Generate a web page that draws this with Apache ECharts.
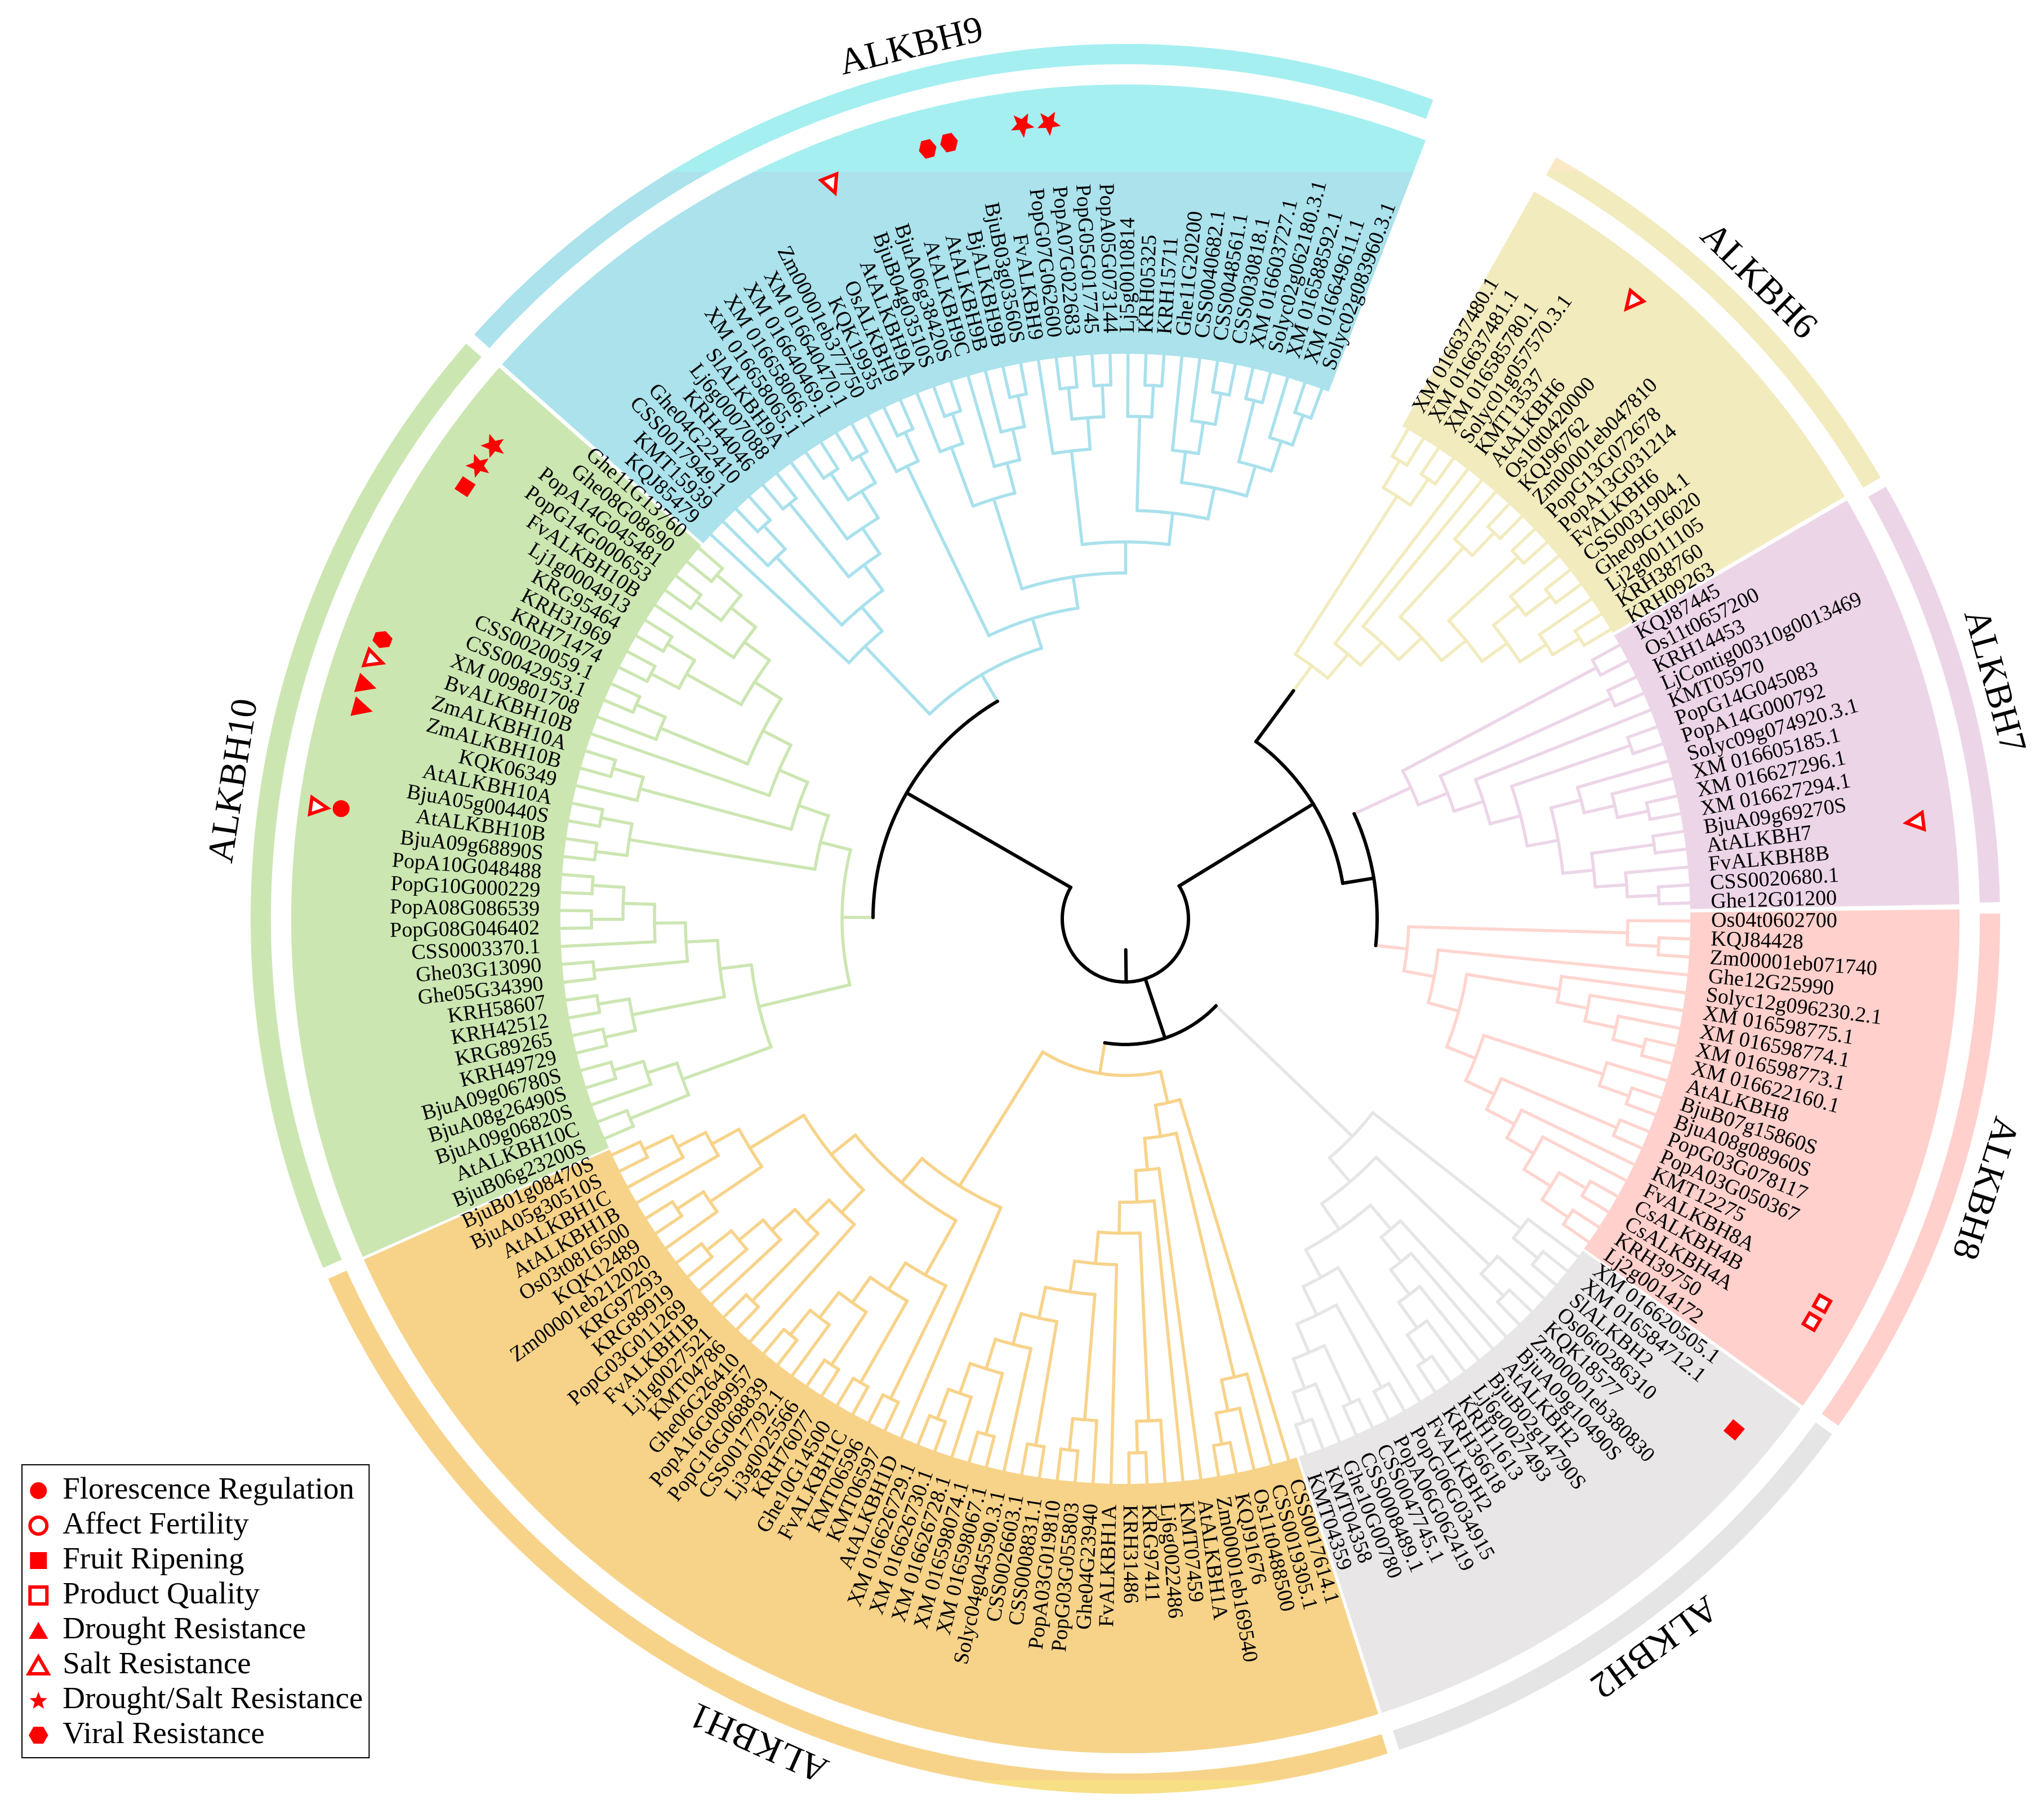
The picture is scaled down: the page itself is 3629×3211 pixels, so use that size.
<!DOCTYPE html>
<html><head><meta charset="utf-8">
<style>html,body{margin:0;padding:0;background:#fff}#c{width:3629px;height:3211px}</style>
<script src="https://cdn.jsdelivr.net/npm/echarts@6/dist/echarts.min.js"></script>
</head><body><div id="c"></div>
<script>
// ---- clade names ----
const cladeNames = ['ALKBH6','ALKBH7','ALKBH8','ALKBH2','ALKBH1','ALKBH10','ALKBH9'];
// Nested trees: [node radius, child, child]; strings are leaves, clockwise order.
const alkbh6 = [558,
 [892,[948,'XM 016637480.1','XM 016637481.1'],[948,'XM 016585780.1','Solyc01g057570.3.1']],
 [614,'KMT13537',[669,'AtALKBH6',[725,[892,'Os10t0420000',[948,'KQJ96762','Zm00001eb047810']],[781,[948,'PopG13G072678','PopA13G031214'],[836,[892,'FvALKBH6',[948,'CSS0031904.1','Ghe09G16020']],[892,'Lj2g0011105',[948,'KRH38760','KRH09263']]]]]]]];
const alkbh7 = [558,[948,'KQJ87445','Os11t0657200'],[614,[948,'KRH14453','LjContig00310g0013469'],[669,'KMT05970',[725,[948,'PopG14G045083','PopA14G000792'],[781,[836,'Solyc09g074920.3.1',[892,'XM 016605185.1',[948,'XM 016627296.1','XM 016627294.1']]],[836,[948,'BjuA09g69270S','AtALKBH7'],[892,'FvALKBH8B',[948,'CSS0020680.1','Ghe12G01200']]]]]]]];
const alkbh8 = [503,[892,'Os04t0602700',[948,'KQJ84428','Zm00001eb071740']],[558,'Ghe12G25990',[614,[781,'Solyc12g096230.2.1',[836,'XM 016598775.1',[892,'XM 016598774.1',[948,'XM 016598773.1','XM 016622160.1']]]],[669,[892,'AtALKBH8',[948,'BjuB07g15860S','BjuA08g08960S']],[725,[948,'PopG03G078117','PopA03G050367'],[781,'KMT12275',[836,'FvALKBH8A',[892,[948,'CsALKBH4B','CsALKBH4A'],[948,'KRH39750','Lj2g0014172']]]]]]]]];
const alkbh2 = [558,[892,'XM 016620505.1',[948,'XM 016584712.1','SlALKBH2']],[614,[892,'Os06t0286310',[948,'KQK18577','Zm00001eb380830']],[669,[725,'BjuA09g10490S',[781,'AtALKBH2',[836,'BjuB02g14790S',[892,'Lj6g0027493',[948,'KRH11613','KRH36618']]]]],[725,'FvALKBH2',[781,[948,'PopG06G034915','PopA06G062419'],[836,[948,'CSS0047745.1','CSS0008489.1'],[892,'Ghe10G00780',[948,'KMT04358','KMT04359']]]]]]]];
const alkbh1 = [278,
 [335,'CSS0017614.1',[391,[836,'CSS0019305.1',[892,'Os11t0488500',[948,'KQJ91676','Zm00001eb169540']]],[447,'AtALKBH1A',[503,'KMT07459',[558,[892,'Lj6g0022486',[948,'KRG97411','KRH31486']],[614,'FvALKBH1A',[669,[892,'Ghe04G23940',[948,'PopG03G055803','PopA03G019810']],[725,[948,'CSS0008831.1','CSS0026603.1'],[781,'Solyc04g045590.3.1',[836,[948,'XM 016598067.1','XM 016598074.1'],[892,'XM 016626728.1',[948,'XM 016626730.1','XM 016626729.1']]]]]]]]]]]],
 [558,'AtALKBH1D',[614,[725,[948,'KMT06597','KMT06596'],[781,[948,'FvALKBH1C','Ghe10G14500'],[836,[948,'KRH76077','Lj3g0025566'],[892,'CSS0017792.1',[948,'PopG16G068839','PopA16G089957']]]]],[669,[725,'Ghe06G26410',[781,[948,'KMT04786','Lj1g0027521'],[836,'FvALKBH1B',[892,'PopG03G011269',[948,'KRG89919','KRG97293']]]]],[781,[892,'Zm00001eb212020',[948,'KQK12489','Os03t0816500']],[836,'AtALKBH1B',[892,'AtALKBH1C',[948,'BjuA05g30510S','BjuB01g08470S']]]]]]]];
const alkbh10 = [503,
 [669,[836,[948,'BjuB06g23200S','AtALKBH10C'],[892,'BjuA09g06820S',[948,'BjuA08g26490S','BjuA09g06780S']]],[725,[892,[948,'KRH49729','KRG89265'],[948,'KRH42512','KRH58607']],[781,[948,'Ghe05G34390','Ghe03G13090'],[836,'CSS0003370.1',[892,[948,'PopG08G046402','PopA08G086539'],[948,'PopG10G000229','PopA10G048488']]]]]],
 [558,[892,[948,'BjuA09g68890S','AtALKBH10B'],[948,'BjuA05g00440S','AtALKBH10A']],[614,[892,'KQK06349',[948,'ZmALKBH10B','ZmALKBH10A']],[669,'BvALKBH10B',[725,[892,'XM 009801708',[948,'CSS0042953.1','CSS0020059.1']],[781,[892,[948,'KRH71474','KRH31969'],[948,'KRG95464','Lj1g0004913']],[836,'FvALKBH10B',[892,[948,'PopG14G000653','PopA14G045481'],[948,'Ghe08G08690','Ghe11G13760']]]]]]]]];
const alkbh9 = [503,
 [669,'KQJ85479',[725,[892,'KMT15939',[948,'CSS0017949.1','Ghe04G22410']],[781,[948,'KRH44046','Lj6g0007088'],[836,'SlALKBH9A',[892,[948,'XM 016658065.1','XM 016658066.1'],[948,'XM 016640469.1','XM 016640470.1']]]]]],
 [558,[892,'Zm00001eb377750',[948,'KQK19935','OsALKBH9']],[614,[781,[892,'AtALKBH9A',[948,'BjuB04g03510S','BjuA06g38420S']],[836,'AtALKBH9C',[892,'AtALKBH9B',[948,'BjALKBH9B','BjuB03g03560S']]]],[669,[836,'FvALKBH9',[892,[948,'PopG07G062600','PopA07G022683'],[948,'PopG05G017745','PopA05G073144']]],[725,[892,'Lj5g0010814',[948,'KRH05325','KRH15711']],[781,[836,'Ghe11G20200',[892,'CSS0040682.1',[948,'CSS0048561.1','CSS0030818.1']]],[836,[948,'XM 016603727.1','Solyc02g062180.3.1'],[892,'XM 016588592.1',[948,'XM 016649611.1','Solyc02g083960.3.1']]]]]]]]];
const rootTree = [112,[391,[503,alkbh6],[447,alkbh7,alkbh8]],[223,alkbh2,alkbh1],[448,alkbh10,alkbh9]];
const cladeTrees = [alkbh6,alkbh7,alkbh8,alkbh2,alkbh1,alkbh10,alkbh9];
// ---- colours per clade ----
const lineColors = ['#F2EBBE','#EDD5E8','#FFD5CF','#E6E6E6','#F7D38A','#CCE6B2','#A9E1EC'];
const wedgeColors = ['#F2EBBE','#EDD5E8','#FFD0CC','#E9E6E7','#F7D38A','#CCE6B2','#ABE2EC'];
const ringColors = ['#F2EBBE','#EDD5E8','#FFD0CC','#E5E5E5','#F7D38A','#CCE6B2','#ABE2EC'];
// ---- wedge and ring extents in degrees ----
const wedgeSpans = [[60.65,30.4],[30.1,1.0],[0.65,-35.7],[-35.95,-72.1],[-72.35,-155.9],[203.9,138.65],[138.35,68.9]];
const ringSpans = [[60.5,30.3],[29.6,1.1],[0.35,-35.4],[-36.1,-71.75],[-72.55,-155.7],[203.5,138.9],[138.1,69.4]];
// ---- clade titles: [radius, degrees] ----
const titleSpots = [[1593,45.2],[1597,15.3],[1597,-17.4],[1594,-54],[1597,-114],[1600,171.2],[1592,103.8]];
// ---- marks: [radius, degrees] ----
const florescence = [[1406,172]];
const affectFertility = [];
const fruitRipening = [[1401,146.8],[1411,-40]];
const productQuality = [[1413,-28.9],[1413,-30.4]];
const droughtRes = [[1409,162.9],[1404,164.6]];
const saltRes = [[1403,111.8],[1410,161],[1445,172.1],[1416,50.6],[1412,7]];
const droughtSalt = [[1419,97.4],[1417,95.5],[1399,143.2],[1400,145]];
const viralRes = [[1411,104.4],[1413,102.8],[1409,159.4]];

const FONT = '"Liberation Serif"';
const STAR = 'path://M50 0 L63 33 L98 35 L71 57 L80 92 L50 73 L20 92 L29 57 L2 35 L37 33 Z';
const HEX = 'path://M25 6.7 L75 6.7 L100 50 L75 93.3 L25 93.3 L0 50 Z';
const TRI = 'path://M50 0 L100 87 L0 87 Z';
const SQR = 'path://M0 0 L100 0 L100 100 L0 100 Z';
const START_DEG = 60, STEP_DEG = 1.8247, TIP_R = 1005, LABEL_R = 1040;

// ---- walk the trees into segments and leaves ----
const colorOf = new Map(); cladeTrees.forEach((t,i)=>colorOf.set(t,lineColors[i]));
const segColors = ['#000000', ...lineColors];
const segments = [], leaves = [];
let leafCount = 0;
function deg(i){ return START_DEG - STEP_DEG*i; }
function walk(node, parentR, color){
  if (typeof node === 'string'){
    const i = leafCount++; leaves.push({name:node,deg:deg(i)});
    segments.push([parentR,deg(i),TIP_R,deg(i),segColors.indexOf(color)]);
    return i;
  }
  const own = colorOf.get(node) || color;
  const r = node[0];
  const pos = node.slice(1).map(ch => walk(ch, r, own));
  const a = pos[0], b = pos[pos.length-1], mid = (a+b)/2;
  const ci = segColors.indexOf(own);
  if (pos.length>1) segments.push([r,deg(a),r,deg(b),ci]);
  segments.push([parentR,deg(mid),r,deg(mid),ci]);
  return mid;
}
walk(rootTree, 55, '#000000');

// ---- band polygons ----
const bands = [];
wedgeSpans.forEach((s,i)=>bands.push({v:[1481,s[0],1003,s[1],i],kind:'w'}));
ringSpans.forEach((s,i)=>bands.push({v:[1553,s[0],1517,s[1],i],kind:'r'}));
function splitFill(topColor, mainColor, bottomColor){
  const t=305/3211, b=3160/3211;
  return {type:'linear',x:0,y:0,x2:0,y2:3211,global:true,colorStops:[
    {offset:0,color:topColor},{offset:t,color:topColor},{offset:t,color:mainColor},
    {offset:b,color:mainColor},{offset:b,color:bottomColor},{offset:1,color:bottomColor}]};
}
function bandFill(b){
  const i=b.v[4];
  if (b.kind==='w') return i===6 ? splitFill('#A5EFF1',wedgeColors[6],wedgeColors[6]) : wedgeColors[i];
  if (i===6) return splitFill('#A5EFF1',ringColors[6],ringColors[6]);
  if (i===0) return splitFill('#FBE8C4',ringColors[0],ringColors[0]);
  if (i===4) return splitFill(ringColors[4],ringColors[4],'#F7DF85');
  return ringColors[i];
}
const commonCustom = {type:'custom',coordinateSystem:'polar',silent:true,animation:false,clip:false};

function markSeries(name,data,symbol,size,hollow){
  return {type:'scatter',name,coordinateSystem:'polar',data,symbol,symbolSize:size,
    symbolRotate:(v)=>v[1]+90,encode:{radius:0,angle:1},animation:false,silent:true,z:8,clip:false,
    itemStyle: hollow ? {color:'#fff',borderColor:'#ff0000',borderWidth:6,opacity:1}
                      : {color:'#ff0000',opacity:1}};
}

const chart = echarts.init(document.getElementById('c'),null,{renderer:'canvas',width:3629,height:3211,devicePixelRatio:1});
chart.setOption({
  animation:false, backgroundColor:'#ffffff',
  polar:{center:[1998,1631],radius:1700},
  angleAxis:{type:'value',min:0,max:360,startAngle:0,clockwise:false,show:false},
  radiusAxis:{type:'value',min:0,max:1700,show:false},
  legend:{left:39,top:2600,orient:'vertical',itemWidth:52,itemHeight:30,itemGap:0,padding:[15,11,9,9],
    borderColor:'#000',borderWidth:2,backgroundColor:'#fff',selectedMode:false,
    symbolRotate:0,itemStyle:{borderWidth:'inherit'},
    textStyle:{fontFamily:FONT,fontSize:55,lineHeight:62,color:'#000',padding:[0,0,0,12]},
    data:['Florescence Regulation','Affect Fertility','Fruit Ripening','Product Quality','Drought Resistance','Salt Resistance','Drought/Salt Resistance','Viral Resistance']},
  series:[
    {...commonCustom,z:1,encode:{radius:0,angle:1},data:bands.map(b=>b.v),
     renderItem(p,api){
       const R=api.value(0),a0=api.value(1),r=api.value(2),a1=api.value(3);
       const pts=[],n=Math.ceil(Math.abs(a1-a0)/0.5);
       for(let k=0;k<=n;k++)pts.push(api.coord([R,a0+(a1-a0)*k/n]));
       for(let k=n;k>=0;k--)pts.push(api.coord([r,a0+(a1-a0)*k/n]));
       return {type:'polygon',shape:{points:pts},style:{fill:bandFill(bands[p.dataIndex])}};
     }},
    {...commonCustom,z:2,encode:{radius:0,angle:1},data:segments,
     renderItem(p,api){
       const r0=api.value(0),a0=api.value(1),r1=api.value(2),a1=api.value(3),c=segColors[api.value(4)];
       const pts=[];
       if(r0===r1){const n=Math.max(2,Math.ceil(Math.abs(a1-a0)));for(let k=0;k<=n;k++)pts.push(api.coord([r0,a0+(a1-a0)*k/n]));}
       else{pts.push(api.coord([r0,a0]));pts.push(api.coord([r1,a1]));}
       return {type:'polyline',shape:{points:pts},style:{stroke:c,lineWidth:c==='#000000'?6:5.5,fill:null,lineCap:'round',lineJoin:'round'}};
     }},
    {...commonCustom,z:5,encode:{radius:0,angle:1},data:leaves.map(l=>[LABEL_R,l.deg]),
     renderItem(p,api){
       const d0=api.value(1),pt=api.coord([api.value(0),d0]);
       let d=((d0%360)+540)%360-180;
       const right=d>-90&&d<90;
       return {type:'text',x:pt[0],y:pt[1],rotation:(right?d:d+180)*Math.PI/180,
         style:{text:leaves[p.dataIndex].name,x:0,y:0,fill:'#000',font:'38px '+FONT,
           align:right?'left':'right',verticalAlign:'middle',textAlign:right?'left':'right',textVerticalAlign:'middle'}};
     }},
    {...commonCustom,z:6,encode:{radius:0,angle:1},data:titleSpots,
     renderItem(p,api){
       const d=api.value(1),pt=api.coord([api.value(0),d]);
       return {type:'text',x:pt[0],y:pt[1],rotation:(d-90)*Math.PI/180,
         style:{text:cladeNames[p.dataIndex],x:0,y:0,fill:'#000',font:'66px '+FONT,
           align:'center',verticalAlign:'middle',textAlign:'center',textVerticalAlign:'middle'}};
     }},
    markSeries('Florescence Regulation',florescence,'circle',30,false),
    markSeries('Affect Fertility',affectFertility,'circle',24,true),
    markSeries('Fruit Ripening',fruitRipening,SQR,27,false),
    markSeries('Product Quality',productQuality,SQR,22,true),
    markSeries('Drought Resistance',droughtRes,TRI,36,false),
    markSeries('Salt Resistance',saltRes,TRI,30,true),
    markSeries('Drought/Salt Resistance',droughtSalt,STAR,42,false),
    markSeries('Viral Resistance',viralRes,HEX,32,false)
  ]
});
</script></body></html>
